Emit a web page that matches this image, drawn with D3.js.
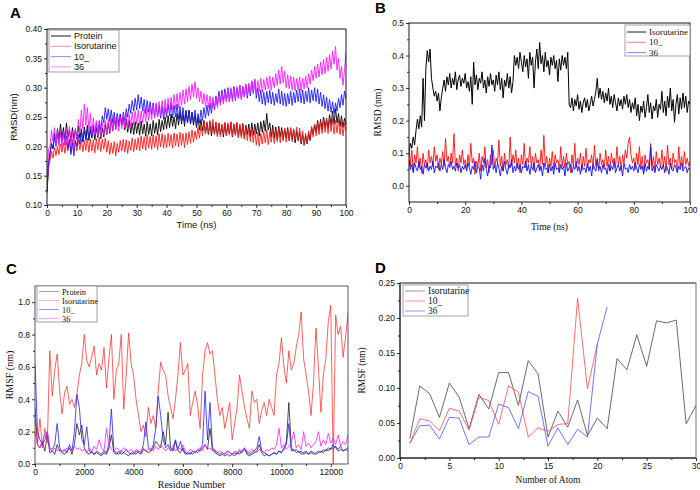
<!DOCTYPE html>
<html><head><meta charset="utf-8">
<script src="https://cdn.jsdelivr.net/npm/d3@7"></script>
<style>body{margin:0;background:#fff}svg{display:block}</style>
</head><body><svg id="c" width="700" height="490"></svg>
<script>
// ---------------- DATA ----------------
// Panel A: RMSD (nm) vs time, sampled every 0.5 ns from 0 to 100 ns
const rmsdStepNs = 0.5;
const aSeriesNames = ["Protein", "Isorutarine", "10_", "36"];
const aProtein = [
0.125,0.170,0.188,0.205,0.196,0.222,0.205,0.230,0.212,0.238,0.214,0.232,0.210,0.240,0.215,0.228,0.208,0.232,0.212,0.230,
0.212,0.235,0.214,0.230,0.208,0.233,0.213,0.236,0.210,0.228,0.214,0.234,0.211,0.232,0.215,0.237,0.213,0.231,0.216,0.238,
0.220,0.240,0.222,0.245,0.226,0.248,0.230,0.252,0.234,0.255,0.236,0.250,0.228,0.247,0.224,0.244,0.222,0.240,0.220,0.242,
0.222,0.240,0.219,0.243,0.221,0.238,0.217,0.242,0.220,0.238,0.218,0.244,0.222,0.240,0.219,0.246,0.225,0.244,0.228,0.250,
0.230,0.252,0.232,0.255,0.234,0.250,0.230,0.256,0.236,0.258,0.238,0.255,0.234,0.260,0.240,0.262,0.238,0.258,0.236,0.254,
0.232,0.250,0.228,0.246,0.226,0.244,0.222,0.240,0.220,0.242,0.218,0.238,0.221,0.240,0.217,0.239,0.220,0.236,0.216,0.240,
0.218,0.238,0.220,0.241,0.216,0.237,0.219,0.240,0.215,0.236,0.218,0.239,0.214,0.236,0.220,0.238,0.217,0.240,0.219,0.238,
0.221,0.240,0.218,0.242,0.224,0.244,0.226,0.256,0.228,0.240,0.216,0.236,0.214,0.233,0.212,0.234,0.216,0.232,0.213,0.230,
0.214,0.232,0.210,0.230,0.212,0.228,0.206,0.226,0.210,0.224,0.204,0.220,0.202,0.218,0.204,0.222,0.210,0.232,0.220,0.238,
0.224,0.244,0.226,0.246,0.228,0.250,0.232,0.248,0.230,0.254,0.236,0.260,0.238,0.264,0.240,0.256,0.234,0.252,0.232,0.248,
0.236];
const aIsorutarine = [
0.120,0.162,0.176,0.192,0.180,0.198,0.184,0.200,0.186,0.204,0.190,0.206,0.188,0.208,0.192,0.210,0.190,0.212,0.194,0.210,
0.192,0.212,0.194,0.213,0.191,0.210,0.193,0.214,0.190,0.212,0.192,0.211,0.189,0.213,0.194,0.215,0.191,0.212,0.195,0.214,
0.190,0.210,0.186,0.206,0.188,0.208,0.184,0.205,0.190,0.210,0.192,0.212,0.190,0.211,0.188,0.209,0.193,0.214,0.191,0.212,
0.194,0.215,0.192,0.218,0.196,0.216,0.193,0.219,0.197,0.217,0.195,0.220,0.198,0.218,0.194,0.221,0.199,0.222,0.197,0.219,
0.198,0.222,0.200,0.220,0.197,0.223,0.201,0.221,0.199,0.224,0.202,0.222,0.198,0.223,0.203,0.225,0.205,0.228,0.207,0.226,
0.212,0.232,0.214,0.236,0.218,0.240,0.222,0.242,0.220,0.244,0.224,0.246,0.220,0.242,0.218,0.240,0.216,0.238,0.220,0.241,
0.218,0.240,0.220,0.242,0.217,0.239,0.219,0.241,0.216,0.238,0.214,0.236,0.212,0.234,0.210,0.232,0.208,0.230,0.206,0.228,
0.202,0.224,0.200,0.222,0.204,0.226,0.206,0.228,0.203,0.225,0.207,0.229,0.205,0.227,0.208,0.230,0.206,0.228,0.209,0.231,
0.207,0.229,0.210,0.232,0.208,0.230,0.211,0.233,0.209,0.231,0.206,0.226,0.202,0.222,0.205,0.226,0.212,0.234,0.216,0.238,
0.218,0.240,0.220,0.243,0.222,0.245,0.224,0.246,0.222,0.248,0.225,0.247,0.221,0.244,0.223,0.246,0.220,0.242,0.218,0.240,
0.226];
const a10 = [
0.122,0.172,0.186,0.205,0.196,0.215,0.200,0.222,0.204,0.226,0.206,0.224,0.202,0.218,0.196,0.212,0.186,0.206,0.184,0.210,
0.200,0.220,0.204,0.224,0.208,0.228,0.210,0.230,0.214,0.234,0.216,0.236,0.218,0.240,0.222,0.244,0.228,0.252,0.240,0.266,
0.246,0.264,0.242,0.262,0.240,0.258,0.236,0.256,0.234,0.254,0.238,0.258,0.244,0.264,0.250,0.272,0.256,0.278,0.260,0.282,
0.262,0.288,0.264,0.284,0.260,0.280,0.256,0.278,0.258,0.276,0.254,0.274,0.252,0.272,0.250,0.270,0.248,0.268,0.246,0.266,
0.250,0.272,0.252,0.274,0.248,0.270,0.250,0.272,0.246,0.268,0.244,0.266,0.242,0.262,0.240,0.260,0.238,0.258,0.240,0.262,
0.236,0.256,0.240,0.262,0.244,0.266,0.248,0.270,0.252,0.274,0.256,0.278,0.262,0.286,0.270,0.294,0.274,0.296,0.276,0.298,
0.278,0.300,0.276,0.298,0.280,0.302,0.278,0.300,0.282,0.304,0.280,0.302,0.284,0.306,0.282,0.304,0.286,0.310,0.290,0.314,
0.282,0.300,0.276,0.296,0.272,0.292,0.270,0.294,0.274,0.296,0.272,0.292,0.270,0.290,0.274,0.298,0.272,0.294,0.270,0.290,
0.268,0.290,0.272,0.294,0.270,0.292,0.274,0.296,0.276,0.298,0.274,0.296,0.272,0.294,0.276,0.300,0.274,0.296,0.278,0.300,
0.276,0.298,0.272,0.292,0.268,0.288,0.264,0.284,0.260,0.280,0.258,0.276,0.256,0.274,0.260,0.282,0.266,0.288,0.270,0.294,
0.280];
const a36 = [
0.130,0.195,0.200,0.228,0.208,0.232,0.204,0.228,0.200,0.226,0.198,0.224,0.202,0.230,0.206,0.234,0.200,0.226,0.198,0.230,
0.214,0.246,0.222,0.262,0.230,0.272,0.236,0.266,0.228,0.256,0.222,0.248,0.220,0.244,0.218,0.242,0.216,0.240,0.220,0.244,
0.222,0.246,0.224,0.248,0.226,0.250,0.228,0.252,0.226,0.250,0.230,0.254,0.232,0.256,0.230,0.254,0.234,0.258,0.236,0.260,
0.238,0.262,0.236,0.260,0.240,0.264,0.242,0.266,0.244,0.268,0.246,0.270,0.248,0.274,0.250,0.276,0.252,0.278,0.254,0.280,
0.256,0.282,0.258,0.284,0.262,0.288,0.264,0.290,0.266,0.292,0.270,0.296,0.272,0.298,0.276,0.302,0.280,0.306,0.284,0.310,
0.282,0.300,0.276,0.294,0.272,0.290,0.268,0.288,0.266,0.286,0.264,0.284,0.262,0.282,0.266,0.286,0.270,0.290,0.272,0.292,
0.276,0.298,0.278,0.300,0.276,0.298,0.280,0.302,0.282,0.304,0.280,0.302,0.284,0.306,0.286,0.308,0.290,0.312,0.292,0.314,
0.290,0.312,0.294,0.316,0.292,0.314,0.296,0.318,0.298,0.320,0.296,0.318,0.300,0.324,0.304,0.330,0.306,0.336,0.308,0.328,
0.300,0.322,0.298,0.320,0.296,0.318,0.294,0.316,0.296,0.318,0.294,0.316,0.298,0.320,0.300,0.324,0.306,0.330,0.312,0.336,
0.316,0.340,0.318,0.344,0.322,0.348,0.324,0.352,0.328,0.356,0.332,0.362,0.340,0.370,0.330,0.350,0.316,0.336,0.304,0.330,
0.360];

// Panel B: ligand RMSD (nm) vs time, sampled every 0.5 ns
const bSeriesNames = ["Isorutarine", "10_", "36"];
const bIsorutarine = [
0.100,0.130,0.115,0.150,0.125,0.170,0.205,0.175,0.215,0.180,0.330,0.200,0.360,0.415,0.380,0.420,0.330,0.300,0.275,0.290,
0.260,0.285,0.230,0.270,0.300,0.325,0.290,0.335,0.310,0.345,0.300,0.330,0.310,0.350,0.295,0.325,0.340,0.305,0.330,0.315,
0.345,0.300,0.320,0.290,0.335,0.250,0.380,0.310,0.340,0.295,0.330,0.315,0.350,0.300,0.325,0.285,0.335,0.305,0.345,0.310,
0.325,0.290,0.340,0.310,0.350,0.295,0.330,0.270,0.325,0.305,0.345,0.300,0.335,0.285,0.320,0.400,0.370,0.395,0.360,0.410,
0.380,0.350,0.400,0.365,0.390,0.330,0.410,0.370,0.395,0.300,0.380,0.420,0.360,0.440,0.375,0.400,0.350,0.410,0.365,0.385,
0.340,0.395,0.370,0.400,0.360,0.385,0.320,0.390,0.355,0.400,0.370,0.395,0.360,0.410,0.250,0.240,0.270,0.230,0.265,0.245,
0.280,0.235,0.260,0.225,0.255,0.270,0.240,0.265,0.230,0.250,0.275,0.245,0.265,0.290,0.330,0.270,0.300,0.265,0.290,0.255,
0.285,0.260,0.300,0.250,0.275,0.240,0.280,0.255,0.230,0.270,0.245,0.265,0.235,0.275,0.250,0.280,0.240,0.265,0.225,0.255,
0.235,0.270,0.215,0.250,0.200,0.245,0.225,0.260,0.210,0.240,0.280,0.225,0.255,0.205,0.245,0.230,0.265,0.210,0.250,0.235,
0.290,0.225,0.260,0.215,0.275,0.240,0.300,0.230,0.265,0.195,0.250,0.280,0.220,0.270,0.235,0.285,0.240,0.275,0.225,0.260,
0.250];
const b10 = [
0.130,0.060,0.110,0.045,0.095,0.070,0.120,0.055,0.085,0.040,0.100,0.065,0.080,0.050,0.110,0.070,0.090,0.060,0.120,0.075,
0.095,0.050,0.085,0.065,0.105,0.060,0.145,0.075,0.090,0.055,0.100,0.070,0.160,0.060,0.085,0.045,0.095,0.070,0.110,0.065,
0.080,0.050,0.095,0.060,0.130,0.070,0.085,0.035,0.075,0.060,0.100,0.045,0.090,0.070,0.120,0.055,0.080,0.040,0.095,0.065,
0.110,0.055,0.085,0.070,0.140,0.060,0.090,0.045,0.100,0.065,0.080,0.050,0.150,0.060,0.095,0.070,0.110,0.055,0.085,0.040,
0.095,0.065,0.130,0.055,0.085,0.070,0.120,0.060,0.090,0.045,0.100,0.070,0.080,0.050,0.110,0.065,0.155,0.060,0.090,0.040,
0.085,0.060,0.105,0.050,0.095,0.070,0.080,0.045,0.120,0.060,0.090,0.055,0.100,0.065,0.075,0.040,0.095,0.060,0.130,0.055,
0.085,0.065,0.100,0.045,0.090,0.060,0.115,0.055,0.080,0.070,0.095,0.050,0.125,0.060,0.085,0.045,0.100,0.065,0.080,0.055,
0.110,0.060,0.090,0.045,0.100,0.070,0.085,0.055,0.120,0.065,0.090,0.050,0.095,0.070,0.110,0.085,0.130,0.150,0.095,0.070,
0.085,0.050,0.100,0.065,0.120,0.055,0.090,0.040,0.095,0.070,0.080,0.050,0.130,0.060,0.090,0.045,0.105,0.065,0.085,0.055,
0.110,0.060,0.090,0.045,0.125,0.065,0.085,0.050,0.100,0.070,0.080,0.045,0.120,0.060,0.090,0.055,0.105,0.065,0.085,0.060,
0.075];
const b36 = [
0.080,0.050,0.065,0.040,0.070,0.055,0.045,0.075,0.050,0.060,0.035,0.065,0.055,0.070,0.045,0.060,0.050,0.075,0.040,0.060,
0.055,0.070,0.045,0.065,0.050,0.080,0.055,0.040,0.065,0.060,0.075,0.050,0.060,0.045,0.070,0.055,0.065,0.040,0.060,0.050,
0.065,0.045,0.070,0.055,0.035,0.060,0.050,0.075,0.040,0.060,0.055,0.020,0.065,0.045,0.085,0.050,0.030,0.060,0.055,0.125,
0.050,0.065,0.040,0.070,0.055,0.030,0.060,0.045,0.075,0.050,0.035,0.065,0.055,0.080,0.040,0.060,0.045,0.070,0.050,0.065,
0.040,0.060,0.055,0.075,0.045,0.065,0.035,0.060,0.050,0.070,0.040,0.055,0.065,0.045,0.060,0.030,0.070,0.050,0.055,0.040,
0.065,0.045,0.060,0.035,0.070,0.050,0.055,0.040,0.065,0.050,0.060,0.030,0.070,0.045,0.055,0.065,0.040,0.060,0.050,0.075,
0.045,0.060,0.035,0.065,0.050,0.055,0.040,0.070,0.045,0.060,0.030,0.065,0.055,0.045,0.080,0.050,0.060,0.040,0.065,0.050,
0.055,0.035,0.065,0.045,0.060,0.050,0.075,0.040,0.055,0.065,0.045,0.060,0.030,0.070,0.050,0.055,0.040,0.065,0.050,0.060,
0.045,0.070,0.055,0.040,0.065,0.050,0.060,0.035,0.070,0.045,0.060,0.050,0.120,0.045,0.060,0.040,0.065,0.055,0.045,0.060,
0.050,0.065,0.040,0.060,0.055,0.035,0.070,0.050,0.045,0.065,0.055,0.040,0.060,0.050,0.070,0.045,0.055,0.060,0.040,0.055,
0.050];

// Panel C: RMSF (nm) per residue, sampled every 100 residues (0..12700)
const rmsfResidueStep = 100;
const cSeriesNames = ["Protein", "Isorutarine", "10_", "36"];
const cProtein = [
0.35,0.12,0.10,0.14,0.08,0.18,0.07,0.08,0.06,0.12,0.08,0.07,0.06,0.08,0.10,0.06,0.12,0.25,0.18,0.24,
0.10,0.07,0.06,0.08,0.06,0.07,0.06,0.05,0.07,0.06,0.10,0.18,0.07,0.06,0.08,0.06,0.07,0.06,0.05,0.07,
0.06,0.08,0.07,0.06,0.09,0.08,0.07,0.08,0.10,0.14,0.12,0.10,0.20,0.12,0.32,0.10,0.08,0.14,0.08,0.07,
0.10,0.06,0.07,0.06,0.08,0.07,0.09,0.08,0.10,0.12,0.09,0.22,0.09,0.07,0.06,0.05,0.06,0.05,0.06,0.05,
0.06,0.05,0.07,0.06,0.08,0.10,0.06,0.05,0.06,0.07,0.08,0.12,0.07,0.05,0.06,0.05,0.06,0.07,0.06,0.08,
0.07,0.09,0.14,0.38,0.10,0.08,0.09,0.07,0.08,0.06,0.07,0.06,0.08,0.07,0.06,0.07,0.08,0.07,0.09,0.08,
0.10,0.09,0.11,0.08,0.09,0.08,0.09,0.10];
const cIsorutarine = [
0.30,0.12,0.28,0.10,0.22,0.13,0.70,0.42,0.58,0.68,0.45,0.31,0.44,0.48,0.37,0.40,0.35,0.43,0.55,0.62,
0.80,0.64,0.60,0.66,0.73,0.55,0.62,0.58,0.72,0.47,0.65,0.80,0.40,0.58,0.62,0.80,0.34,0.55,0.81,0.62,
0.55,0.40,0.30,0.20,0.24,0.17,0.35,0.25,0.30,0.22,0.45,0.63,0.58,0.55,0.42,0.35,0.28,0.40,0.55,0.75,
0.55,0.58,0.62,0.30,0.38,0.45,0.36,0.22,0.55,0.70,0.75,0.68,0.70,0.55,0.40,0.30,0.35,0.22,0.30,0.38,
0.15,0.25,0.35,0.55,0.45,0.35,0.28,0.22,0.45,0.38,0.40,0.25,0.33,0.38,0.30,0.40,0.35,0.30,0.55,0.62,
0.78,0.60,0.50,0.70,0.58,0.62,0.72,0.80,0.94,0.65,0.55,0.45,0.30,0.50,0.84,0.60,0.32,0.55,0.65,0.88,
0.98,0.00,0.92,0.80,0.85,0.66,0.78,0.93];
const c10 = [
0.62,0.20,0.15,0.12,0.15,0.20,0.10,0.09,0.12,0.25,0.10,0.08,0.09,0.07,0.12,0.08,0.20,0.43,0.35,0.15,
0.12,0.23,0.08,0.07,0.06,0.08,0.07,0.06,0.08,0.07,0.12,0.34,0.08,0.07,0.06,0.08,0.07,0.09,0.07,0.06,
0.07,0.06,0.08,0.07,0.12,0.26,0.10,0.08,0.12,0.22,0.42,0.30,0.15,0.10,0.12,0.08,0.10,0.15,0.09,0.14,
0.08,0.07,0.06,0.07,0.06,0.08,0.07,0.09,0.12,0.45,0.15,0.38,0.10,0.08,0.07,0.06,0.07,0.06,0.08,0.07,
0.06,0.07,0.06,0.08,0.07,0.09,0.07,0.06,0.07,0.08,0.10,0.17,0.08,0.07,0.06,0.05,0.06,0.07,0.06,0.08,
0.07,0.10,0.12,0.25,0.08,0.09,0.07,0.08,0.06,0.07,0.08,0.06,0.07,0.06,0.07,0.08,0.07,0.09,0.08,0.10,
0.09,0.12,0.10,0.09,0.11,0.08,0.09,0.08];
const c36 = [
0.20,0.12,0.10,0.14,0.18,0.20,0.09,0.08,0.10,0.08,0.09,0.07,0.08,0.10,0.09,0.08,0.11,0.09,0.10,0.08,
0.09,0.07,0.10,0.08,0.11,0.09,0.15,0.10,0.08,0.22,0.12,0.09,0.08,0.10,0.09,0.08,0.10,0.09,0.08,0.09,
0.07,0.09,0.08,0.07,0.10,0.08,0.09,0.10,0.08,0.11,0.09,0.12,0.10,0.08,0.10,0.09,0.11,0.08,0.10,0.09,
0.12,0.08,0.07,0.09,0.08,0.07,0.09,0.10,0.08,0.12,0.09,0.10,0.08,0.09,0.07,0.08,0.07,0.06,0.08,0.07,
0.06,0.08,0.07,0.09,0.08,0.10,0.08,0.07,0.09,0.08,0.07,0.09,0.08,0.07,0.09,0.08,0.10,0.09,0.12,0.22,
0.10,0.12,0.09,0.11,0.13,0.20,0.10,0.12,0.09,0.20,0.11,0.13,0.10,0.12,0.14,0.20,0.11,0.15,0.12,0.19,
0.13,0.16,0.12,0.18,0.11,0.14,0.12,0.18];

// Panel D: ligand RMSF (nm) per atom
const atomNumbers = [1,2,3,4,5,6,7,8,9,10,11,12,13,14,15,16,17,18,19,20,21,22,23,24,25,26,27,28,29,30];
const dSeriesNames = ["Isorutarine", "10_", "36"];
const dIsorutarine = [0.028,0.103,0.092,0.058,0.107,0.087,0.042,0.091,0.070,0.122,0.122,0.075,0.139,0.120,0.030,0.067,0.044,0.083,0.032,0.057,0.042,0.142,0.126,0.176,0.131,0.196,0.193,0.197,0.049,0.075];
const d10 = [0.021,0.056,0.053,0.039,0.071,0.067,0.040,0.087,0.082,0.048,0.103,0.094,0.030,0.043,0.038,0.048,0.049,0.228,0.099,0.163];
const d36 = [0.021,0.046,0.047,0.027,0.058,0.057,0.019,0.030,0.030,0.077,0.072,0.042,0.095,0.088,0.017,0.043,0.019,0.041,0.030,0.163,0.216];

// Tick values
const aXTicks = [0,10,20,30,40,50,60,70,80,90,100];
const aYTicks = [0.10,0.15,0.20,0.25,0.30,0.35,0.40];
const bXTicks = [0,20,40,60,80,100];
const bYTicks = [0.0,0.1,0.2,0.3,0.4,0.5];
const cXTicks = [0,2000,4000,6000,8000,10000,12000];
const cYTicks = [0.0,0.2,0.4,0.6,0.8,1.0];
const dXTicks = [0,5,10,15,20,25,30];
const dYTicks = [0.00,0.05,0.10,0.15,0.20,0.25];

// ---------------- DRAWING ----------------
const svg = d3.select('#c');
const SANS = "Liberation Sans, Arial, sans-serif";
const SERIF = "Liberation Serif, Times New Roman, serif";

function midTicks(t){ const m=[]; for(let i=0;i<t.length-1;i++) m.push((t[i]+t[i+1])/2); return m; }

function panel(o){
  const g = svg.append('g');
  const x = d3.scaleLinear().domain(o.xDomain).range([o.L,o.R]);
  const y = d3.scaleLinear().domain(o.yDomain).range([o.B,o.T]);
  const cid = 'clip'+o.id;
  svg.append('clipPath').attr('id',cid).append('rect')
    .attr('x',o.L).attr('y',o.T-1).attr('width',o.R-o.L).attr('height',o.B-o.T+1);
  const lg = g.append('g').attr('clip-path',`url(#${cid})`);
  o.series.forEach(s=>{
    const line = d3.line().x((d,i)=>x(s.xOf(i))).y(d=>y(d));
    lg.append('path').attr('d',line(s.values)).attr('fill','none')
      .attr('stroke',s.color).attr('stroke-width',s.w||0.8).attr('stroke-linejoin','round')
      .attr('opacity',s.op||1);
  });
  // frame
  g.append('rect').attr('x',o.L).attr('y',o.T).attr('width',o.R-o.L).attr('height',o.B-o.T)
    .attr('fill','none').attr('stroke',o.frame||'#000').attr('stroke-width',0.9);
  if(o.topThick){
    g.append('line').attr('x1',o.L).attr('x2',o.R).attr('y1',o.T).attr('y2',o.T)
      .attr('stroke','#8a8a8a').attr('stroke-width',2.2);
    g.append('line').attr('x1',o.L).attr('x2',o.L).attr('y1',o.T).attr('y2',o.B).attr('stroke','#000').attr('stroke-width',1);
    g.append('line').attr('x1',o.L).attr('x2',o.R).attr('y1',o.B).attr('y2',o.B).attr('stroke','#000').attr('stroke-width',1);
  }
  // axes
  const ax = g.append('g').attr('transform',`translate(0,${o.B})`)
    .call(d3.axisBottom(x).tickValues(o.xTicks).tickSize(3).tickPadding(2).tickFormat(o.xFmt));
  const axm = g.append('g').attr('transform',`translate(0,${o.B})`)
    .call(d3.axisBottom(x).tickValues(midTicks(o.xTicks)).tickSize(2).tickFormat(''));
  const ay = g.append('g').attr('transform',`translate(${o.L},0)`)
    .call(d3.axisLeft(y).tickValues(o.yTicks).tickSize(3).tickPadding(2).tickFormat(o.yFmt));
  const aym = g.append('g').attr('transform',`translate(${o.L},0)`)
    .call(d3.axisLeft(y).tickValues(midTicks(o.yTicks)).tickSize(2).tickFormat(''));
  [ax,axm,ay,aym].forEach(a=>{ a.select('.domain').remove(); a.selectAll('line').attr('stroke','#000').attr('stroke-width',0.8); });
  [ax,ay].forEach(a=>a.selectAll('text').attr('font-family',SANS).attr('font-size',o.tickFs).attr('fill','#111'));
  // axis titles
  g.append('text').attr('x',(o.L+o.R)/2).attr('y',o.xTitleY).attr('text-anchor','middle')
    .attr('font-family',o.titleFont).attr('font-size',o.titleFs).attr('fill','#111').text(o.xTitle);
  g.append('text').attr('transform',`translate(${o.yTitleX},${(o.T+o.B)/2}) rotate(-90)`)
    .attr('text-anchor','middle').attr('font-family',o.titleFont).attr('font-size',o.titleFs).attr('fill','#111').text(o.yTitle);
  // panel letter
  g.append('text').attr('x',o.letterX).attr('y',o.letterY).attr('font-family',SANS)
    .attr('font-weight','bold').attr('font-size',15).attr('fill','#000').text(o.letter);
  // legend
  const lgd = o.legend;
  g.append('rect').attr('x',lgd.x).attr('y',lgd.y).attr('width',lgd.w).attr('height',lgd.h)
    .attr('fill','#fff').attr('stroke','#8c8c8c').attr('stroke-width',0.8);
  o.series.forEach((s,i)=>{
    const yy = lgd.y + lgd.first + i*lgd.row;
    g.append('line').attr('x1',lgd.x+2).attr('x2',lgd.x+2+lgd.len).attr('y1',yy).attr('y2',yy)
      .attr('stroke',s.legColor||s.color).attr('stroke-width',0.9);
    g.append('text').attr('x',lgd.x+5+lgd.len).attr('y',yy+3).attr('font-family',lgd.font)
      .attr('font-size',lgd.fs).attr('fill','#111').text(s.name);
  });
}

const stepX = i => i*rmsdStepNs;
const resX = i => i*rmsfResidueStep;
const atomX = i => atomNumbers[i];

panel({id:'A', L:47, R:346, T:29, B:205, xDomain:[0,100], yDomain:[0.10,0.40],
  xTicks:aXTicks, yTicks:aYTicks, xFmt:d3.format('d'), yFmt:d3.format('.2f'), tickFs:8.5,
  xTitle:'Time (ns)', yTitle:'RMSD(nm)', titleFont:SANS, titleFs:9.5, xTitleY:228, yTitleX:17,
  letter:'A', letterX:10, letterY:18,
  legend:{x:49,y:30,w:70,h:42,first:6,row:10.3,len:20,font:SANS,fs:9},
  series:[
    {name:aSeriesNames[0], values:aProtein, xOf:stepX, color:'#000', w:0.9},
    {name:aSeriesNames[1], values:aIsorutarine, xOf:stepX, color:'#ff1a1a', w:0.9, legColor:'#ff8080'},
    {name:aSeriesNames[2], values:a10, xOf:stepX, color:'#1a1aff', w:0.9, legColor:'#8080ff'},
    {name:aSeriesNames[3], values:a36, xOf:stepX, color:'#ff1aff', w:0.9, legColor:'#ff80ff'}
  ]});

panel({id:'B', L:409, R:690, T:23, B:202, xDomain:[0,100], yDomain:[-0.05,0.5],
  xTicks:bXTicks, yTicks:bYTicks, xFmt:d3.format('d'), yFmt:d3.format('.1f'), tickFs:8.5,
  xTitle:'Time (ns)', yTitle:'RMSD (nm)', titleFont:SERIF, titleFs:9.5, xTitleY:230, yTitleX:381,
  letter:'B', letterX:375, letterY:13,
  legend:{x:625,y:25,w:65,h:31,first:7,row:10.3,len:19,font:SERIF,fs:9},
  series:[
    {name:bSeriesNames[0], values:bIsorutarine, xOf:stepX, color:'#000', w:1.0},
    {name:bSeriesNames[1], values:b10, xOf:stepX, color:'#ff1010', w:0.9, legColor:'#ff7070'},
    {name:bSeriesNames[2], values:b36, xOf:stepX, color:'#1010ff', w:0.9, legColor:'#7070ff'}
  ]});

panel({id:'C', L:35, R:348, T:286, B:464, xDomain:[0,12700], yDomain:[0,1.1],
  xTicks:cXTicks, yTicks:cYTicks, xFmt:d3.format('d'), yFmt:d3.format('.1f'), tickFs:8.5,
  xTitle:'Residue Number', yTitle:'RMSF (nm)', titleFont:SERIF, titleFs:10, xTitleY:488, yTitleX:13,
  letter:'C', letterX:6, letterY:274, frame:'#444',
  legend:{x:37,y:286,w:60,h:36,first:5.5,row:9,len:20,font:SERIF,fs:8.3},
  series:[
    {name:cSeriesNames[0], values:cProtein, xOf:resX, color:'#222', w:0.8, legColor:'#999'},
    {name:cSeriesNames[1], values:cIsorutarine, xOf:resX, color:'#ff2020', w:0.7, legColor:'#ffaaaa'},
    {name:cSeriesNames[2], values:c10, xOf:resX, color:'#2020ff', w:0.8, legColor:'#8888ff'},
    {name:cSeriesNames[3], values:c36, xOf:resX, color:'#ff20ff', w:0.8, legColor:'#ff99ff'}
  ]});

panel({id:'D', L:400, R:696, T:283, B:458, xDomain:[0,30], yDomain:[0,0.25],
  xTicks:dXTicks, yTicks:dYTicks, xFmt:d3.format('d'), yFmt:d3.format('.2f'), tickFs:8.5,
  xTitle:'Number of Atom', yTitle:'RMSF (nm)', titleFont:SERIF, titleFs:9.5, xTitleY:483, yTitleX:365,
  letter:'D', letterX:375, letterY:273, frame:'#666', topThick:true,
  legend:{x:403,y:285,w:65,h:31,first:6,row:10,len:20,font:SERIF,fs:9.5},
  series:[
    {name:dSeriesNames[0], values:dIsorutarine, xOf:atomX, color:'#444', w:0.8, legColor:'#888'},
    {name:dSeriesNames[1], values:d10, xOf:atomX, color:'#ff4a4a', w:0.8, legColor:'#ff8888'},
    {name:dSeriesNames[2], values:d36, xOf:atomX, color:'#5050ff', w:0.8, legColor:'#8888ff'}
  ]});
</script></body></html>
